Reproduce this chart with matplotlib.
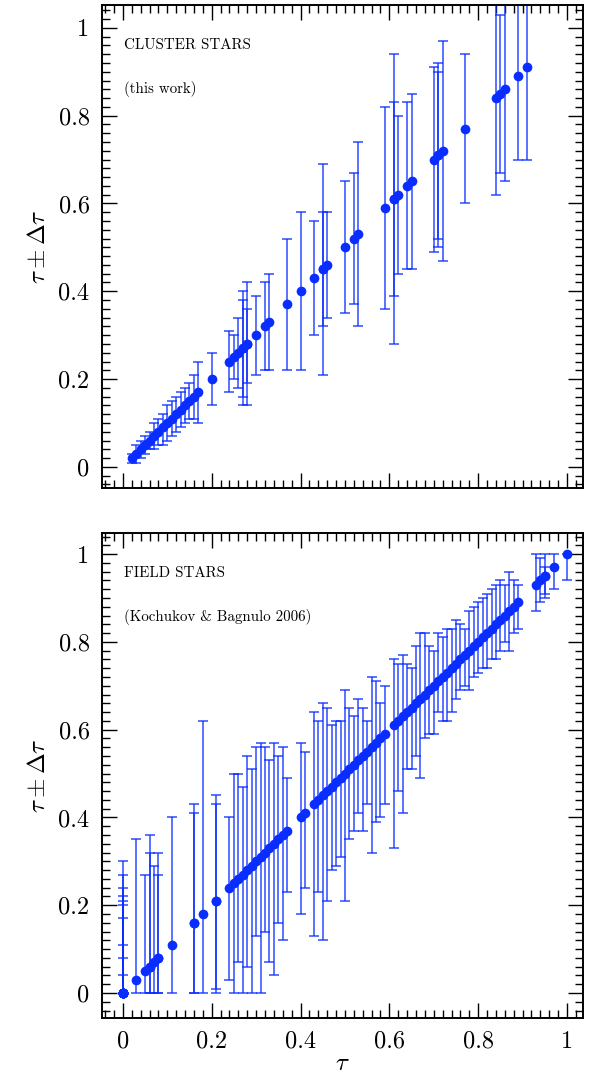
import numpy as np
import matplotlib
matplotlib.use("Agg")
import matplotlib.pyplot as plt
from matplotlib.ticker import MultipleLocator, FuncFormatter

plt.rcParams['font.family'] = ['cmr10', 'DejaVu Serif']
plt.rcParams['mathtext.fontset'] = 'cm'
plt.rcParams['axes.formatter.use_mathtext'] = True

# cluster stars (this work): tau, lower and upper bound of tau +- dtau
cl_tau = [0.02, 0.03, 0.04, 0.05, 0.06, 0.07, 0.08, 0.09, 0.10, 0.11, 0.12, 0.13,
          0.14, 0.15, 0.16, 0.17, 0.20, 0.24, 0.25, 0.26, 0.27, 0.27, 0.28, 0.28,
          0.30, 0.32, 0.33, 0.37, 0.40, 0.43, 0.45, 0.45, 0.46, 0.50, 0.52, 0.53,
          0.59, 0.61, 0.61, 0.62, 0.64, 0.65, 0.70, 0.71, 0.71, 0.72, 0.77, 0.84,
          0.85, 0.86, 0.89, 0.91]
cl_lo = [0.01, 0.01, 0.02, 0.03, 0.04, 0.04, 0.05, 0.05, 0.06, 0.07, 0.08, 0.09,
         0.10, 0.11, 0.11, 0.10, 0.14, 0.17, 0.20, 0.18, 0.14, 0.16, 0.14, 0.19,
         0.21, 0.22, 0.22, 0.22, 0.22, 0.30, 0.21, 0.32, 0.34, 0.35, 0.37, 0.32,
         0.36, 0.28, 0.39, 0.44, 0.45, 0.45, 0.49, 0.52, 0.50, 0.47, 0.60, 0.62,
         0.67, 0.65, 0.70, 0.70]
cl_hi = [0.03, 0.05, 0.06, 0.07, 0.08, 0.10, 0.11, 0.12, 0.14, 0.15, 0.16, 0.17,
         0.18, 0.19, 0.21, 0.24, 0.26, 0.31, 0.30, 0.34, 0.40, 0.38, 0.42, 0.36,
         0.39, 0.42, 0.44, 0.52, 0.58, 0.56, 0.69, 0.58, 0.58, 0.65, 0.67, 0.74,
         0.82, 0.94, 0.83, 0.80, 0.83, 0.85, 0.91, 0.90, 0.92, 0.97, 0.94, 1.10,
         1.03, 1.10, 1.10, 1.10]

# field stars (Kochukov & Bagnulo 2006)
fd_tau = [0.00, 0.00, 0.00, 0.00, 0.00, 0.00, 0.00, 0.00, 0.00, 0.00,
          0.03, 0.05, 0.06, 0.06, 0.07, 0.08, 0.08, 0.11, 0.16, 0.16, 0.18, 0.21, 0.21,
          0.24, 0.25, 0.26, 0.27, 0.28, 0.29, 0.30, 0.31, 0.32, 0.33, 0.34, 0.35, 0.36, 0.37,
          0.40, 0.41,
          0.43, 0.44, 0.45, 0.46, 0.47, 0.48, 0.49, 0.50, 0.51, 0.52, 0.53, 0.54, 0.55,
          0.56, 0.57, 0.58, 0.59,
          0.61, 0.62, 0.63, 0.64, 0.65, 0.66, 0.67, 0.68, 0.69, 0.70, 0.71, 0.72, 0.73,
          0.74, 0.75, 0.76, 0.77, 0.78, 0.79, 0.80, 0.81, 0.82, 0.83, 0.84, 0.85, 0.86,
          0.87, 0.88, 0.89,
          0.93, 0.94, 0.95, 0.95, 0.97, 1.00]
fd_lo = [0.00, 0.00, 0.00, 0.00, 0.00, 0.00, 0.00, 0.00, 0.00, 0.00,
         0.00, 0.00, 0.00, 0.00, 0.00, 0.00, 0.00, 0.00, 0.00, 0.00, 0.00, 0.00, 0.01,
         0.03, 0.00, 0.07, 0.00, 0.06, 0.00, 0.13, 0.00, 0.14, 0.07, 0.04, 0.16, 0.12, 0.23,
         0.18, 0.24,
         0.13, 0.23, 0.12, 0.21, 0.28, 0.29, 0.31, 0.21, 0.35, 0.37, 0.41, 0.37, 0.43,
         0.32, 0.39, 0.40, 0.43,
         0.33, 0.46, 0.41, 0.51, 0.51, 0.54, 0.49, 0.58, 0.59, 0.59, 0.64, 0.62, 0.62,
         0.64, 0.67, 0.69, 0.70, 0.69, 0.72, 0.73, 0.74, 0.74, 0.76, 0.76, 0.78, 0.80,
         0.78, 0.82, 0.83,
         0.87, 0.89, 0.90, 0.91, 0.92, 0.94]
fd_hi = [0.30, 0.27, 0.24, 0.22, 0.21, 0.20, 0.17, 0.11, 0.08, 0.04,
         0.35, 0.27, 0.36, 0.32, 0.29, 0.32, 0.27, 0.40, 0.43, 0.41, 0.62, 0.45, 0.43,
         0.40, 0.50, 0.50, 0.47, 0.54, 0.51, 0.56, 0.57, 0.56, 0.53, 0.57, 0.54, 0.56, 0.49,
         0.57, 0.55,
         0.64, 0.62, 0.66, 0.65, 0.61, 0.62, 0.62, 0.69, 0.65, 0.63, 0.67, 0.65, 0.62,
         0.72, 0.71, 0.66, 0.70,
         0.76, 0.75, 0.77, 0.75, 0.74, 0.79, 0.82, 0.82, 0.79, 0.78, 0.82, 0.81, 0.83,
         0.83, 0.85, 0.84, 0.83, 0.87, 0.88, 0.89, 0.90, 0.91, 0.92, 0.93, 0.94, 0.93,
         0.96, 0.94, 0.93,
         1.00, 0.99, 1.00, 0.97, 1.00, 1.00]

blue = '#0a2dff'


def panel(ax, tau, lo, hi, line1, line2, ylim):
    tau = np.array(tau)
    yerr = [tau - np.array(lo), np.array(hi) - tau]
    ax.errorbar(tau, tau, yerr=yerr, fmt='none', ecolor=blue, elinewidth=1.1,
                capsize=3.8, capthick=1.1, alpha=0.85, zorder=2)
    ax.plot(tau, tau, 'o', color=blue, ms=7, mec='none', zorder=3)
    ax.set_xlim(-0.047, 1.036)
    ax.set_ylim(*ylim)
    for a in (ax.xaxis, ax.yaxis):
        a.set_major_locator(MultipleLocator(0.2))
        a.set_minor_locator(MultipleLocator(0.02))
        a.set_major_formatter(FuncFormatter(lambda v, p: '%g' % round(v, 2)))
    ax.tick_params(which='both', direction='in', top=True, right=True,
                   width=1.0, labelsize=17.5, pad=9)
    ax.tick_params(which='major', length=11)
    ax.tick_params(which='minor', length=5.5)
    for s in ax.spines.values():
        s.set_linewidth(1.4)
    ax.set_ylabel(r'$\tau \pm \Delta\tau$', fontsize=18, labelpad=6)
    ax.text(0.046, 0.917, line1, transform=ax.transAxes, fontsize=10.8,
            va='center', ha='left')
    ax.text(0.046, 0.826, line2, transform=ax.transAxes, fontsize=10.8,
            va='center', ha='left')


fig = plt.figure(figsize=(6, 10.82), dpi=100)
ax1 = fig.add_axes([0.17, 0.549, 0.8017, 0.4464])
ax2 = fig.add_axes([0.17, 0.0591, 0.8017, 0.4483])

panel(ax1, cl_tau, cl_lo, cl_hi, 'CLUSTER STARS', '(this work)', (-0.048, 1.052))
panel(ax2, fd_tau, fd_lo, fd_hi, 'FIELD STARS', '(Kochukov & Bagnulo 2006)',
      (-0.057, 1.048))
ax1.tick_params(labelbottom=False)
ax2.set_xlabel(r'$\tau$', fontsize=18, labelpad=0)

fig.savefig('out.png', dpi=100)
